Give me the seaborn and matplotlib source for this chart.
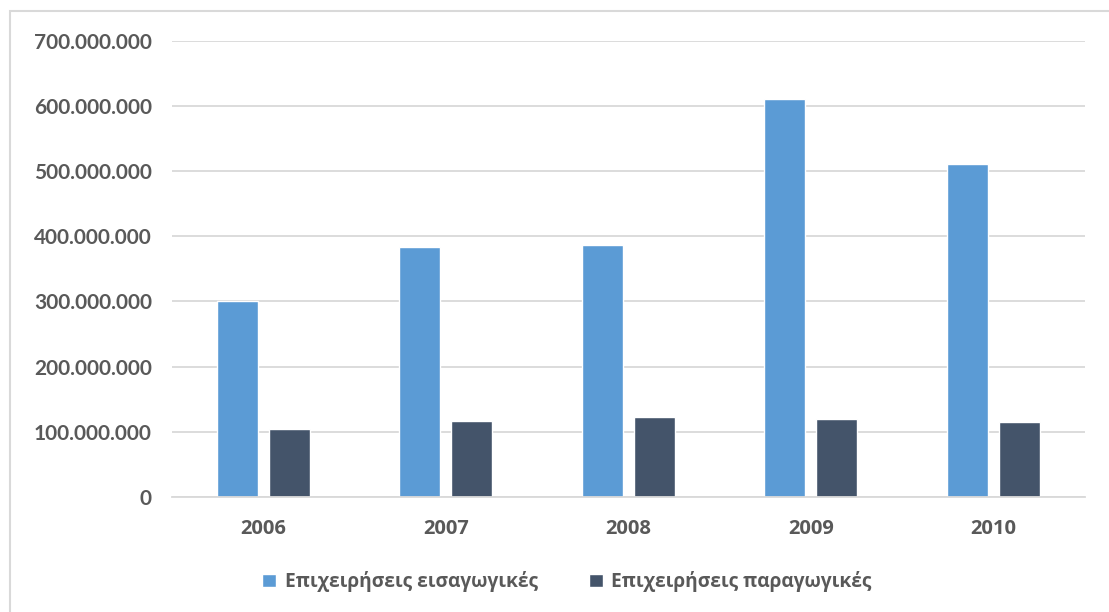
import matplotlib
matplotlib.use("Agg")
import matplotlib.pyplot as plt
import matplotlib.ticker as mticker
from matplotlib.patches import Rectangle
import seaborn as sns
import pandas as pd

# Values
years = ["2006", "2007", "2008", "2009", "2010"]
imports = [300_000_000, 384_000_000, 387_000_000, 610_000_000, 511_000_000]
producers = [104_000_000, 117_000_000, 123_000_000, 120_000_000, 115_000_000]
series_names = ["Επιχειρήσεις εισαγωγικές", "Επιχειρήσεις παραγωγικές"]
y_ticks = [0, 100_000_000, 200_000_000, 300_000_000, 400_000_000,
           500_000_000, 600_000_000, 700_000_000]

COLORS = ["#5B9BD5", "#44546A"]
TEXT = "#595959"
GRID = "#D9D9D9"

df = pd.DataFrame({
    "year": years * 2,
    "value": imports + producers,
    "series": [series_names[0]] * len(years) + [series_names[1]] * len(years),
})

sns.set_theme(style="white")
plt.rcParams["font.family"] = ["Lato", "Open Sans", "DejaVu Sans"]
plt.rcParams["font.weight"] = "bold"

fig = plt.figure(figsize=(11.09, 6.12), dpi=100)
ax = fig.add_axes([0.155, 0.188, 0.823, 0.7455])

sns.barplot(data=df, x="year", y="value", hue="series", palette=COLORS,
            width=0.57, gap=0.21, ax=ax, saturation=1, legend=True)

ax.set_ylim(0, 700_000_000)
ax.set_yticks(y_ticks)
ax.yaxis.set_major_formatter(
    mticker.FuncFormatter(lambda v, p: f"{int(v):,}".replace(",", ".")))
ax.set_xticks(range(len(years)))
ax.set_xticklabels(years, fontweight="bold", fontfamily="Open Sans")
ax.grid(axis="y", color=GRID, linewidth=1.3)
ax.set_axisbelow(True)
for side in ["left", "right", "top"]:
    ax.spines[side].set_visible(False)
ax.spines["bottom"].set_color(GRID)
ax.spines["bottom"].set_linewidth(1.3)
ax.tick_params(axis="both", length=0, labelsize=15, colors=TEXT)
ax.tick_params(axis="x", labelsize=14.5, pad=16)
ax.tick_params(axis="y", pad=14.5)
ax.set_xlabel("")
ax.set_ylabel("")

leg = ax.legend(loc="center", bbox_to_anchor=(0.433, -85 / 456), ncol=2,
                frameon=False, handlelength=0.7,
                handleheight=0.7, handletextpad=0.45, columnspacing=2.7,
                prop={"family": ["Open Sans", "DejaVu Sans"], "weight": "bold",
                      "size": 13.8})
for t in leg.get_texts():
    t.set_color(TEXT)

# light outer frame of the chart area
fig.patches.append(Rectangle((10 / 1109, -0.01), 1.0, 1 - 11 / 612 + 0.01,
                             transform=fig.transFigure, fill=False,
                             edgecolor="#D9D9D9", linewidth=1.5))

fig.savefig("out.png", dpi=100, facecolor="white")
